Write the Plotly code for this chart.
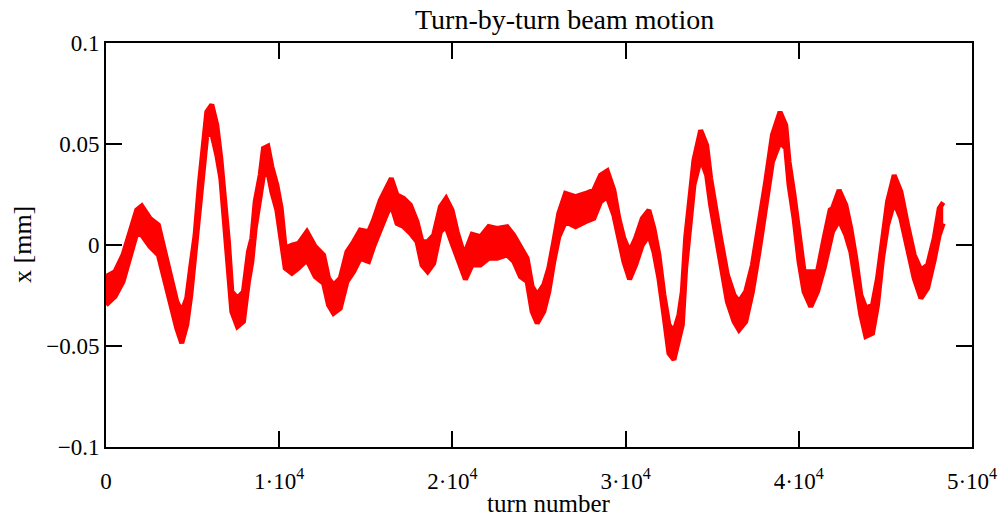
import plotly.graph_objects as go

# turn number at sampled points
turns = [0, 520, 983, 1387, 1774, 2063, 2543, 3023, 3312, 3699, 4086, 4375, 4664, 4896,
         5144, 5393, 5624, 5820, 6109, 6398, 6630, 6878, 7069, 7265, 7589, 7936, 8225,
         8421, 8612, 8901, 9092, 9346, 9577, 9866, 10115, 10346, 10733, 11115, 11600,
         12080, 12560, 12849, 13138, 13525, 13912, 14294, 14681, 15161, 15450, 15837,
         16224, 16473, 16802, 17184, 17571, 17958, 18247, 18571, 18918, 19305, 19635,
         19981, 20270, 20559, 20750, 21137, 21617, 22097, 22582, 23160, 23542, 23929,
         24316, 24605, 24894, 25276, 25565, 25854, 26143, 26530, 27108, 27686, 28166,
         28553, 28940, 29322, 29611, 29900, 30229, 30576, 30963, 31345, 31634, 31923,
         32212, 32501, 32790, 33079, 33275, 33466, 33715, 33946, 34333, 34680, 34911,
         35200, 35489, 35876, 36258, 36547, 36934, 37321, 37703, 38090, 38477, 38917,
         39246, 39437, 39726, 40015, 40304, 40691, 41078, 41460, 41807, 41945, 42327,
         42714, 43003, 43292, 43581, 43870, 44257, 44546, 44835, 45124, 45506, 45893,
         46280, 46662, 47049, 47436, 47818, 48107, 48338]

# upper envelope of the fast oscillation, x [mm]
x_upper = [-0.0157, -0.0132, -0.0049, 0.0066, 0.0173, 0.0193, 0.0132, 0.0099, 0.0, -0.0132,
           -0.0280, -0.0330, -0.0263, -0.0107, 0.0049, 0.0305, 0.0478, 0.0659, 0.0695,
           0.0593, 0.0428, 0.0198, 0.0016, -0.0231, -0.0263, -0.0231, -0.0033,
           0.0033, 0.0214, 0.0346, 0.0478, 0.0489, 0.0387, 0.0297, 0.0181, -0.0016, 0.0,
           0.0008, 0.0066, -0.0008, -0.0049, -0.0165, -0.0198, -0.0165, -0.0033, 0.0016,
           0.0074, 0.0066, 0.0124, 0.0222, 0.0297, 0.0330, 0.0247, 0.0231, 0.0198, 0.0115,
           0.0016, 0.0016, 0.0049, 0.0189, 0.0231, 0.0173, 0.0066, -0.0016, -0.0033,
           0.0053, 0.0041, 0.0091, 0.0082, 0.0091, 0.0049, -0.0008, -0.0066, -0.0206,
           -0.0247, -0.0198, -0.0115, 0.0016, 0.0157, 0.0255, 0.0239, 0.0255, 0.0272,
           0.0346, 0.0367, 0.0272, 0.0132, 0.0033, -0.0033, 0.0033, 0.0132, 0.0173,
           0.0082, -0.0049, -0.0247, -0.0395, -0.0429, -0.0346, -0.0231, 0.0033, 0.0247,
           0.0420, 0.0568, 0.0494, 0.0330, 0.0165, 0.0033, -0.0148, -0.0247, -0.0280,
           -0.0231, -0.0099, 0.0099, 0.0313, 0.0544, 0.0659, 0.0593, 0.0412, 0.0247,
           0.0049, -0.0132, -0.0132, -0.0132, 0.0033, 0.0173, 0.0181, 0.0272, 0.0198,
           0.0082, -0.0066, -0.0247, -0.0313, -0.0297, -0.0165, 0.0049, 0.0214, 0.0346,
           0.0264, 0.0099, -0.0049, -0.0124, -0.0099, 0.0033, 0.0181, 0.0211]

# lower envelope of the fast oscillation, x [mm]
x_lower = [-0.0297, -0.0255, -0.0181, -0.0066, 0.0058, 0.0049, -0.0008, -0.0049, -0.0148,
           -0.0263, -0.0412, -0.0486, -0.0395, -0.0247, -0.0033, 0.0181, 0.0346, 0.0544,
           0.0552, 0.0445, 0.0330, 0.0049, -0.0115, -0.0330, -0.0404, -0.0379, -0.0181,
           -0.0082, 0.0082, 0.0263, 0.0346, 0.0362, 0.0263, 0.0173, 0.0033, -0.0115,
           -0.0140, -0.0115, -0.0074, -0.0157, -0.0189, -0.0297, -0.0338, -0.0313, -0.0181,
           -0.0132, -0.0066, -0.0082, -0.0008, 0.0082, 0.0157, 0.0198, 0.0107, 0.0091,
           0.0058, 0.0016, -0.0099, -0.0132, -0.0091, 0.0066, 0.0091, 0.0008, -0.0066,
           -0.0132, -0.0170, -0.0099, -0.0099, -0.0066, -0.0066, -0.0049, -0.0082, -0.0157,
           -0.0181, -0.0330, -0.0387, -0.0330, -0.0231, -0.0082, 0.0041, 0.0115, 0.0091,
           0.0115, 0.0132, 0.0214, 0.0239, 0.0148, 0.0033, -0.0082, -0.0170, -0.0099, 0.0,
           0.0049, -0.0033, -0.0165, -0.0346, -0.0536, -0.0568, -0.0478, -0.0395, -0.0115,
           0.0115, 0.0297, 0.0429, 0.0346, 0.0198, 0.0049, -0.0099, -0.0280, -0.0379,
           -0.0420, -0.0379, -0.0231, -0.0033, 0.0181, 0.0412, 0.0511, 0.0478, 0.0297,
           0.0132, -0.0082, -0.0231, -0.0305, -0.0231, -0.0115, 0.0016, 0.0066, 0.0124,
           0.0049, -0.0033, -0.0181, -0.0346, -0.0453, -0.0437, -0.0297, -0.0066, 0.0099,
           0.0214, 0.0132, -0.0016, -0.0165, -0.0264, -0.0214, -0.0074, 0.0049, 0.0107]

x_tickvals = [0, 10000, 20000, 30000, 40000, 50000]
x_ticktext = ["0", "1·10<sup>4</sup>", "2·10<sup>4</sup>", "3·10<sup>4</sup>",
              "4·10<sup>4</sup>", "5·10<sup>4</sup>"]
y_tickvals = [-0.1, -0.05, 0, 0.05, 0.1]
y_ticktext = ["−0.1", "−0.05", "0", "0.05", "0.1"]

RED = "#ff0000"
FONT = "Liberation Serif"

fig = go.Figure()
fig.add_trace(go.Scatter(x=turns, y=x_lower, mode="lines",
                         line=dict(color=RED, width=5), showlegend=False, hoverinfo="skip"))
fig.add_trace(go.Scatter(x=turns, y=x_upper, mode="lines", fill="tonexty",
                         fillcolor=RED, line=dict(color=RED, width=5),
                         showlegend=False, hoverinfo="skip"))

axis_common = dict(showline=True, linecolor="black", linewidth=2, mirror="ticks",
                   ticks="inside", ticklen=16, tickwidth=2, tickcolor="black",
                   showgrid=False, zeroline=False, automargin=False,
                   tickfont=dict(family=FONT, size=23, color="black"))

fig.update_xaxes(range=[0, 50000], tickmode="array", tickvals=x_tickvals,
                 ticktext=x_ticktext, ticklabelstandoff=12, **axis_common)
fig.update_yaxes(range=[-0.1, 0.1], tickmode="array", tickvals=y_tickvals,
                 ticktext=y_ticktext, ticklabelstandoff=0, **axis_common)

fig.update_layout(
    width=999, height=516,
    margin=dict(l=106, r=27, t=43, b=69),
    paper_bgcolor="white", plot_bgcolor="white",
    font=dict(family=FONT, color="black"),
    annotations=[
        dict(text="Turn-by-turn beam motion", xref="paper", yref="paper",
             x=0.53, y=1.0, yshift=6, xanchor="center", yanchor="bottom",
             showarrow=False, font=dict(family=FONT, size=28, color="black")),
        dict(text="turn number", xref="paper", yref="paper",
             x=0.512, y=0, yshift=-41, xanchor="center", yanchor="top",
             showarrow=False, font=dict(family=FONT, size=25, color="black")),
        dict(text="x [mm]", xref="paper", yref="paper", textangle=-90,
             x=0, xshift=-84, y=0.5, xanchor="center", yanchor="middle",
             showarrow=False, font=dict(family=FONT, size=26, color="black")),
    ],
)

fig.write_html("out.html")
